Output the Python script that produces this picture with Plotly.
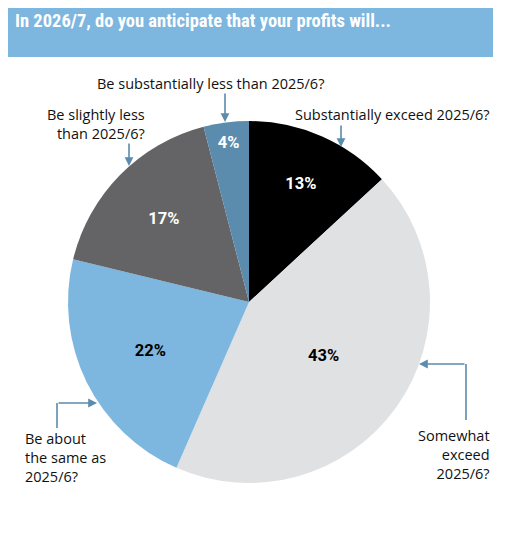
import plotly.graph_objects as go

# Survey answers, clockwise from 12 o'clock
answers = [
    "Substantially exceed 2025/6?",
    "Somewhat exceed 2025/6?",
    "Be about the same as 2025/6?",
    "Be slightly less than 2025/6?",
    "Be substantially less than 2025/6?",
]
shares = [13, 43, 22, 17, 4]
slice_colors = ["#000000", "#e0e1e3", "#7db6de", "#646466", "#5b8bad"]
text_colors = ["white", "black", "black", "white", "white"]

title_text = "In 2026/7, do you anticipate that your profits will..."
bar_blue = "#7db6de"
arrow_blue = "#5b8bad"

# the page body adds an 8px margin, so the figure is a bit smaller than the window
PAD = 8
W, H = 512 - 2 * PAD, 534 - 2 * PAD


def px(x):
    return (x - PAD) / W


def py(y):
    return 1 - (y - PAD) / H


fig = go.Figure()

fig.add_trace(
    go.Pie(
        labels=answers,
        values=shares,
        sort=False,
        direction="clockwise",
        rotation=0,
        marker=dict(colors=slice_colors, line=dict(width=0)),
        texttemplate="%{value}%",
        textposition="inside",
        insidetextorientation="horizontal",
        textfont=dict(family="Roboto", size=16.5, color=text_colors, weight="bold"),
        domain=dict(x=[px(68), px(430)], y=[py(483), py(121)]),
        showlegend=False,
        hoverinfo="label+value",
    )
)

# Title bar
fig.add_shape(
    type="rect", xref="paper", yref="paper",
    x0=px(8), x1=px(493), y0=py(57), y1=py(7),
    fillcolor=bar_blue, line=dict(width=0), layer="below",
)

label_font = dict(family="Open Sans", size=14.5, color="#111111")

annotations = [
    dict(text=title_text, x=px(13), y=py(21), xanchor="left", yanchor="middle",
         font=dict(family="Roboto Condensed, Liberation Sans Narrow, Roboto", size=18.5,
                   color="white", weight="bold")),
]

# Answer labels: (x, anchor, block centre y, text)
labels = [
    (210, "center", 83, "Be substantially less than 2025/6?"),
    (492, "right", 114, "Substantially exceed 2025/6?"),
    (147, "right", 123.5, "Be slightly less<br>than 2025/6?"),
    (23, "left", 457.5, "Be about<br>the same as<br>2025/6?"),
    (492, "right", 454.5, "Somewhat<br>exceed<br>2025/6?"),
]
for x, anchor, y, text in labels:
    annotations.append(
        dict(text=text, x=px(x), y=py(y), xanchor=anchor, yanchor="middle",
             align=anchor, font=label_font)
    )

# Arrows: (head x, head y, tail dx, tail dy) in pixels
arrows = [
    (225, 122, 0, -30),
    (341, 147, 0, -23),
    (129, 166, 0, -24),
    (97, 403, -40, 0),
    (419, 364, 47, 0),
]
for hx, hy, dx, dy in arrows:
    annotations.append(
        dict(text="", x=px(hx), y=py(hy), ax=dx, ay=dy, showarrow=True,
             arrowhead=2, arrowsize=1.1, arrowwidth=1.6, arrowcolor=arrow_blue)
    )

# Vertical legs of the elbow connectors
for x, y0, y1 in [(57, 403, 428), (466, 364, 420)]:
    fig.add_shape(
        type="line", xref="paper", yref="paper",
        x0=px(x), x1=px(x), y0=py(y0), y1=py(y1),
        line=dict(color=arrow_blue, width=1.6),
    )

for a in annotations:
    a.setdefault("xref", "paper")
    a.setdefault("yref", "paper")
    a.setdefault("showarrow", False)

fig.update_layout(
    width=W,
    height=H,
    margin=dict(l=0, r=0, t=0, b=0),
    paper_bgcolor="white",
    plot_bgcolor="white",
    annotations=annotations,
)

fig.write_html("out.html")
